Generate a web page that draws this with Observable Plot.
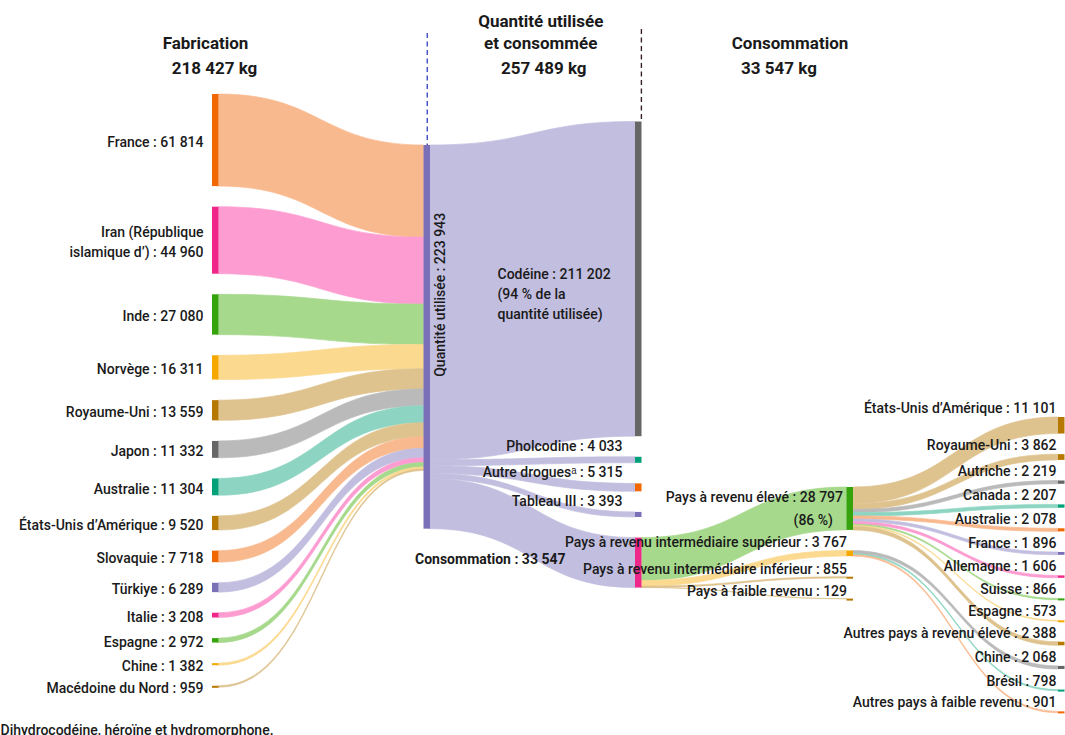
<!DOCTYPE html>
<html>
<head>
<meta charset="utf-8">
<script src="https://cdn.jsdelivr.net/npm/d3@7"></script>
<script src="https://cdn.jsdelivr.net/npm/@observablehq/plot@0.6"></script>
<style>
  body { margin: 0; background: #fff; }
  #chart svg { display: block; }
</style>
</head>
<body>
<div id="chart"></div>
<script>
// ---------------- DATA ----------------
const fabricationPays = ["France", "Iran (République\nislamique d’)", "Inde", "Norvège", "Royaume-Uni", "Japon", "Australie", "États-Unis d’Amérique", "Slovaquie", "Türkiye", "Italie", "Espagne", "Chine", "Macédoine du Nord"];
const fabricationKg = [61814, 44960, 27080, 16311, 13559, 11332, 11304, 9520, 7718, 6289, 3208, 2972, 1382, 959];
const fabricationTotal = 218427;

const quantiteTotale = 257489;
const quantiteUtilisee = 223943;

const utilisationDrogues = ["Codéine", "Pholcodine", "Autre drogues\u1d43", "Tableau III"];
const utilisationKg = [211202, 4033, 5315, 3393];

const consommationTotal = 33547;

const revenuGroupes = ["Pays à revenu élevé", "Pays à revenu intermédiaire supérieur", "Pays à revenu intermédiaire inférieur", "Pays à faible revenu"];
const revenuKg = [28797, 3767, 855, 129];

const paysEleve = ["États-Unis d’Amérique", "Royaume-Uni", "Autriche", "Canada", "Australie", "France", "Allemagne", "Suisse", "Espagne", "Autres pays à revenu élevé"];
const paysEleveKg = [11101, 3862, 2219, 2207, 2078, 1896, 1606, 866, 573, 2388];

const paysInterSup = ["Chine", "Brésil", "Autres pays à faible revenu"];
const paysInterSupKg = [2068, 798, 901];

const noteA = "Dihydrocodéine, héroïne et hydromorphone.";

// ---------------- STYLES ----------------
const dark = {orange: "#f26800", pink: "#ef2789", green: "#35a30c", yellow: "#f6a800", brown: "#b67800", gray: "#666666", teal: "#00a079", purple: "#7a70b8"};
const light = {orange: "#f9b98f", pink: "#fd9cd1", green: "#a6d98c", yellow: "#fbd98e", brown: "#dec38f", gray: "#bababa", teal: "#8dd5c2", purple: "#c2bedf"};
const teintesFabrication = ["orange", "pink", "green", "yellow", "brown", "gray", "teal", "brown", "orange", "purple", "pink", "green", "yellow", "brown"];
const teintesUtilisation = ["gray", "teal", "orange", "purple", "pink"];
const teintesRevenu = ["green", "yellow", "brown", "brown"];
const teintesPays = ["brown", "brown", "gray", "teal", "orange", "purple", "pink", "green", "yellow", "brown", "gray", "teal", "orange"];

// ---------------- LAYOUT ----------------
const W = 1065, H = 735;
const k = 1.49 / 1000;           // pixels per kg
const gap = 20.6 / k;            // gap between nodes, in kg units
const stageSpan = 211.5;         // px between columns
const nw = 6.5 / stageSpan;      // node width in stage units
const colTopPx = [94, 145, 121.5, 487, 417];
const minNodePx = 2 / k;

const fmt = v => d3.format(",")(v).replace(/,/g, "\u00a0");

const nodes = [];
function column(stage, names, values, tints) {
  let y = colTopPx[stage] / k;
  return names.map((name, i) => {
    const n = {name, value: values[i], stage, top: y, bottom: y + values[i], tint: tints[i], inOff: y, outOff: y};
    y += values[i] + gap;
    nodes.push(n);
    return n;
  });
}
const colFab = column(0, fabricationPays, fabricationKg, teintesFabrication);
const [nodeQ] = column(1, ["Quantité"], [quantiteTotale], ["purple"]);
const colUse = column(2, [...utilisationDrogues, "Consommation"], [...utilisationKg, consommationTotal], teintesUtilisation);
const colRev = column(3, revenuGroupes, revenuKg, teintesRevenu);
const colPays = column(4, [...paysEleve, ...paysInterSup], [...paysEleveKg, ...paysInterSupKg], teintesPays);
const nodeConso = colUse[colUse.length - 1];

const links = [];
function link(s, t, v, tint) {
  links.push({s, t, v, tint, sy: s.outOff, ty: t.inOff});
  s.outOff += v; t.inOff += v;
}
colFab.forEach((n, i) => link(n, nodeQ, fabricationKg[i], n.tint));
colUse.forEach(n => link(nodeQ, n, n.value, "purple"));
colRev.forEach((n, i) => link(nodeConso, n, revenuKg[i], n.tint));
paysEleveKg.forEach((v, i) => link(colRev[0], colPays[i], v, colPays[i].tint));
paysInterSupKg.forEach((v, i) => link(colRev[1], colPays[paysEleve.length + i], v, colPays[paysEleve.length + i].tint));

const ribbons = links.flatMap((l, i) => [
  {id: i, x: l.s.stage + nw, y1: l.sy, y2: l.sy + l.v, fill: light[l.tint]},
  {id: i, x: l.t.stage, y1: l.ty, y2: l.ty + l.v, fill: light[l.tint]}
]);

const nodeBars = nodes.map(n => ({...n, y2: Math.max(n.bottom, n.top + minNodePx), fill: dark[n.tint]}));

// labels
const labFab = colFab.map((n, i) => ({x: 0, y: (n.top + n.bottom) / 2, text: `${n.name} : ${fmt(fabricationKg[i])}`}));
const labUse = colUse.slice(1, 4).map(n => ({x: 2, y: n.top, text: `${n.name} : ${fmt(n.value)}`}));
const labRev = colRev.slice(1).map(n => ({x: 3, y: n.top, text: `${n.name} : ${fmt(n.value)}`}));
const labPays = colPays.map(n => ({x: 4, y: n.top, text: `${n.name} : ${fmt(n.value)}`}));
const codeine = colUse[0];
const codeineLink = links.find(l => l.t === codeine);
const pctCodeine = Math.round(100 * utilisationKg[0] / quantiteUtilisee);
const pctEleve = Math.round(100 * revenuKg[0] / consommationTotal);

// header rows (x in stage units, y in pixel rows converted through k)
const headers = [
  {x: 0, dx: -7, row: 43, text: "Fabrication"},
  {x: 0, dx: 2, row: 68, text: `${fmt(fabricationTotal)} kg`},
  {x: 1.5, dx: 11, row: 21, text: "Quantité utilisée"},
  {x: 1.5, dx: 11, row: 43, text: "et consommée"},
  {x: 1.5, dx: 14, row: 68, text: `${fmt(quantiteTotale)} kg`},
  {x: 3, dx: -57, row: 43, text: "Consommation"},
  {x: 3, dx: -68, row: 68, text: `${fmt(consommationTotal)} kg`}
];
const headerMarks = headers.map(h => Plot.text([h], {x: "x", y: d => d.row / k, dx: h.dx, text: "text", fontWeight: "bold", fontSize: 17, fill: "#1a1a1a"}));

const font = "Roboto, 'Open Sans', sans-serif";
const ink = "#1a1a1a";
const lw = 500;

const chart = Plot.plot({
  width: W, height: H,
  marginTop: 0, marginRight: 0, marginBottom: 0, marginLeft: 0,
  style: {fontFamily: font, fontSize: "14px", color: ink, background: "#fff"},
  x: {domain: [0, 4], range: [212, 212 + 4 * stageSpan], axis: null},
  y: {domain: [0, H / k], range: [0, H], axis: null},
  color: {type: "identity"},
  marks: [
    // dashed guides
    Plot.ruleX([1 + nw / 2], {y1: 33 / k, y2: nodeQ.top, stroke: "#3d4cc4", strokeWidth: 1.4, strokeDasharray: "5,3.5"}),
    Plot.ruleX([2 + nw - 0.6 / stageSpan], {y1: 29 / k, y2: codeine.top, stroke: "#3a2222", strokeWidth: 1.4, strokeDasharray: "5,3.5"}),
    // ribbons
    Plot.area(ribbons, {x1: "x", y1: "y1", y2: "y2", z: "id", fill: "fill", stroke: "fill", strokeWidth: 0.7, curve: "bump-x"}),
    // nodes
    Plot.rect(nodeBars, {x1: "stage", x2: d => d.stage + nw, y1: "top", y2: "y2", fill: "fill"}),
    // left labels
    Plot.text(labFab, {x: "x", y: "y", text: "text", dx: -9, textAnchor: "end", lineHeight: 1.42, fontSize: 14, fontWeight: lw, fill: ink}),
    // vertical label
    Plot.text([codeineLink], {x: () => 1 + nw, y: d => d.sy + d.v / 2, text: () => `Quantité utilisée : ${fmt(quantiteUtilisee)}`, rotate: -90, dx: 10, dy: -8, fontSize: 14, fontWeight: lw, fill: ink}),
    // codeine label
    Plot.text([codeine], {x: () => 1 + nw, y: d => (d.top + d.bottom) / 2, text: d => `${d.name} : ${fmt(d.value)}\n(${pctCodeine} % de la\nquantité utilisée)`, dx: 67, dy: 13, textAnchor: "start", lineHeight: 1.43, fontSize: 14, fontWeight: lw, fill: ink}),
    // other drug labels
    Plot.text(labUse, {x: "x", y: "y", text: "text", dx: -13, dy: -11, textAnchor: "end", fontSize: 14, fontWeight: lw, fill: ink}),
    // consommation label
    Plot.text([nodeConso], {x: () => 1, y: "top", text: d => `Consommation : ${fmt(d.value)}`, dx: -9, dy: 21, textAnchor: "start", fontWeight: "bold", fontSize: 14, fill: ink}),
    // income labels
    Plot.text([colRev[0]], {x: () => 3, y: "top", text: d => `${d.name} : ${fmt(d.value)}`, dx: -4, dy: 10, textAnchor: "end", fontSize: 14, fontWeight: lw, fill: ink}),
    Plot.text([colRev[0]], {x: () => 3, y: "top", text: () => `(${pctEleve} %)`, dx: -14, dy: 33, textAnchor: "end", fontSize: 14, fontWeight: lw, fill: ink}),
    Plot.text(labRev, {x: "x", y: "y", text: "text", dx: 0, dy: -8, textAnchor: "end", fontSize: 14, fontWeight: lw, fill: ink}),
    // country labels
    Plot.text(labPays, {x: "x", y: "y", text: "text", dx: -2, dy: -9, textAnchor: "end", fontSize: 14, fontWeight: lw, fill: ink}),
    // headers
    ...headerMarks,
    // footnote
    Plot.text([noteA], {frameAnchor: "bottom-left", text: d => d, textAnchor: "start", lineAnchor: "middle", dy: -5, fontSize: 14, fontWeight: lw, fill: ink})
  ]
});
document.getElementById("chart").append(chart);
</script>
</body>
</html>
